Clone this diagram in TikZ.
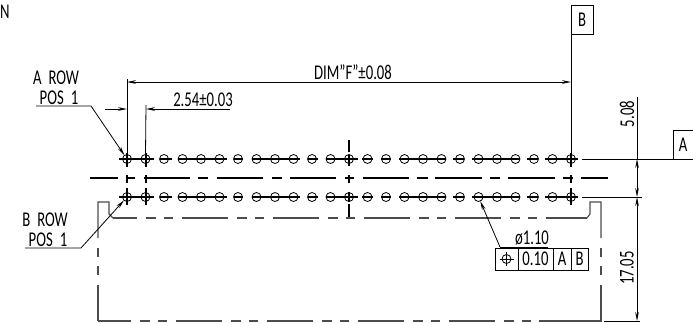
\documentclass[tikz,border=0pt]{standalone}
\usepackage{fontspec}
\setmainfont[FakeStretch=0.7]{Carlito}
\usetikzlibrary{arrows.meta}
\newcommand{\cadfont}{\fontsize{21}{21}\selectfont}
\tikzstyle{hole}=[draw, circle, inner sep=0, outer sep=0, minimum size=9pt, line width=0.8pt]
\tikzstyle{thinline}=[line width=0.8pt]
\tikzstyle{centerline}=[line width=1.4pt]
\tikzstyle{outline}=[line width=1.1pt, black!70]
\tikzstyle{phantom}=[outline, dash pattern=on 46pt off 9pt on 10pt off 8pt on 9pt off 9pt]
\tikzstyle{dimline}=[thinline, -{Stealth[length=9pt, width=3.6pt]}]
\tikzstyle{dimboth}=[thinline, {Stealth[length=9pt, width=3.6pt]}-{Stealth[length=9pt, width=3.6pt]}]
\tikzstyle{datum}=[draw, line width=0.8pt, inner sep=0, outer sep=0, minimum width=22pt, minimum height=29pt, font=\cadfont]
\tikzstyle{frame}=[draw, line width=0.8pt, inner sep=0, outer sep=0, minimum height=22pt, font=\cadfont]
\tikzstyle{label}=[inner sep=0, outer sep=0, font=\cadfont]
\begin{document}
\begin{tikzpicture}[x=1pt, y=-1pt]
        \useasboundingbox (0, 0) rectangle (693, 322);
        % Holes of both rows.
        \foreach \i in {1, ..., 25} {
            \node[hole] (A\i) at ({127 + 18.5*(\i - 1)}, 159) {};
            \node[hole] (B\i) at ({127 + 18.5*(\i - 1)}, 197) {};
        }
        % Centre lines.
        \foreach \y in {159, 197}
            \foreach \a/\b in {119/154, 160/172, 178/227, 234/243, 252/300, 308/318, 326/358,
                               362/373, 381/391, 399/446, 453/464, 472/520, 527/538, 545/578}
                \draw[centerline] (\a, \y) -- (\b, \y);
        \foreach \a/\b in {90/118, 126/135, 144/190, 198/208, 217/263, 272/282, 290/336, 345/354,
                           363/409, 417/428, 435/482, 490/500, 508/555, 563/573, 581/608}
            \draw[centerline] (\a, 178) -- (\b, 178);
        \foreach \x in {127, 146, 571}
            \foreach \a/\b in {153/167, 175/183, 188/205}
                \draw[centerline] (\x, \a) -- (\x, \b);
        \foreach \a/\b in {140/152, 155/166, 175/183, 192/202, 204/218}
            \draw[centerline] (349, \a) -- (349, \b);
        % Outline of the housing.
        \draw[outline] (98, 238) -- (98, 202) -- (109, 202) -- (109, 214) -- (113, 218);
        \draw[outline] (587, 218) -- (590, 214) -- (590, 202) -- (601, 202) -- (601, 238);
        \draw[phantom, dash phase=22pt] (113, 218) -- (587, 218);
        \draw[phantom, dash phase=13pt] (98, 321) -- (585, 321);
        \draw[outline] (539, 321) -- (601, 321) -- (601, 285);
        \draw[outline] (98, 285) -- (98, 321);
        \foreach \a/\b in {248/257, 266/275} {
            \draw[outline] (98, \a) -- (98, \b);
            \draw[outline] (601, \a) -- (601, \b);
        }
        % Datums.
        \node[datum] (datumB) at (582, 19.5) {B};
        \node[datum, minimum width=20pt] (datumA) at (683, 145) {A};
        \coordinate (lineAleft) at (582, 159);
        \coordinate (lineBleft) at (582, 197);
        \coordinate (lineBright) at (642, 197);
        \coordinate (lineAright) at (693, 159);
        \draw[thinline] (datumB.south west) -- (A25.north);
        \draw[thinline] (lineAleft) -- (lineAright);
        \draw[thinline] (lineBleft) -- (lineBright);
        % Extension lines and dimensions.
        \coordinate (extF) at (127, 79);
        \coordinate (extP) at (146, 105);
        \coordinate (dimFleft) at (127, 82);
        \coordinate (dimFright) at (571, 82);
        \coordinate (dimPleft) at (105, 109);
        \coordinate (dimPa) at (127, 109);
        \coordinate (dimPb) at (146, 109);
        \coordinate (dimPright) at (230, 109);
        \draw[thinline] (extF) -- (A1.north);
        \draw[thinline] (extP) -- (A2.north);
        \draw[dimboth] (dimFleft) -- (dimFright);
        \draw[dimline] (dimPleft) -- (dimPa);
        \draw[dimline] (dimPright) -- (dimPb);
        \node[label] (dimF) at (353, 72) {DIM"F"±0.08};
        \node[label] (dimP) at (203, 100) {2.54±0.03};
        \coordinate (ext508) at (637, 97);
        \coordinate (dim508) at (637, 159);
        \coordinate (dim1705a) at (637, 197);
        \coordinate (dim1705b) at (637, 321);
        \coordinate (extbottomleft) at (604, 321);
        \coordinate (extbottomright) at (640, 321);
        \draw[thinline] (ext508) -- (dim508);
        \draw[dimboth] (dim508) -- (dim1705a);
        \draw[dimboth] (dim1705a) -- (dim1705b);
        \draw[thinline] (extbottomleft) -- (extbottomright);
        \node[label, rotate=90] (height508) at (627, 114) {5.08};
        \node[label, rotate=90] (height1705) at (627, 268) {17.05};
        % Row leaders.
        \coordinate (rowAa) at (36, 106);
        \coordinate (rowAb) at (91, 106);
        \coordinate (rowBa) at (25, 248);
        \coordinate (rowBb) at (81, 248);
        \draw[dimline] (rowAa) -- (rowAb) -- (A1);
        \draw[dimline] (rowBa) -- (rowBb) -- (B1);
        \node[label] (rowAtop) at (56, 78) {A\,\,ROW};
        \node[label] (rowAbot) at (59, 97.5) {POS\,\,1};
        \node[label] (rowBtop) at (45, 220) {B\,\,ROW};
        \node[label] (rowBbot) at (48, 239.5) {POS\,\,1};
        % Feature control frame.
        \node[frame, minimum width=23pt] (tolsym) at (506.5, 259) {};
        \node[frame, minimum width=35pt] (tolval) at (535.5, 259) {0.10};
        \node[frame, minimum width=18pt] (tolA) at (562, 259) {A};
        \node[frame, minimum width=17pt] (tolB) at (579.5, 259) {B};
        \node[hole] (tolpos) at (tolsym.center) {};
        \draw[thinline] (tolsym.center) +(-7, 0) -- +(7, 0);
        \draw[thinline] (tolsym.center) +(0, -7) -- +(0, 7);
        \coordinate (diaend) at (548, 247);
        \coordinate (diastart) at (500, 247);
        \draw[thinline] (diastart) -- (diaend);
        \draw[dimline] (diastart) -- (B20);
        \node[label] (dia) at (532, 238) {ø1.10};
        \node[label, anchor=west] (cutoff) at (0, 12) {N};
\end{tikzpicture}
\end{document}
